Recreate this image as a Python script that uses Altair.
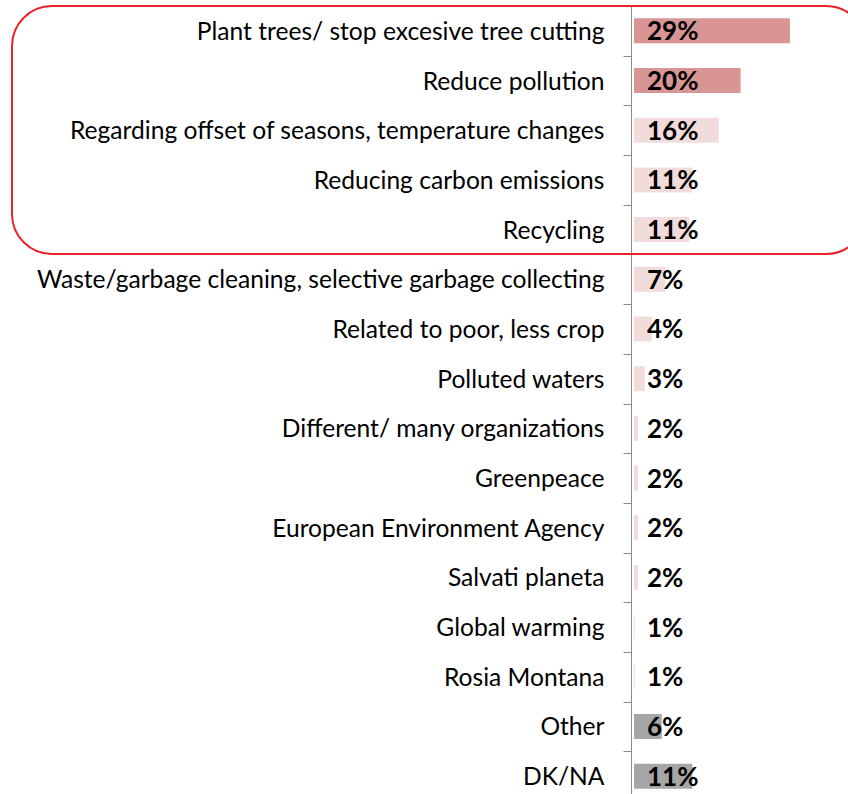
import altair as alt
import pandas as pd

categories = [
    "Plant trees/ stop excesive tree cutting",
    "Reduce pollution",
    "Regarding offset of seasons, temperature changes",
    "Reducing carbon emissions",
    "Recycling",
    "Waste/garbage cleaning, selective garbage collecting",
    "Related to poor, less crop",
    "Polluted waters",
    "Different/ many organizations",
    "Greenpeace",
    "European Environment Agency",
    "Salvati planeta",
    "Global warming",
    "Rosia Montana",
    "Other",
    "DK/NA",
]
values = [29.0, 20.0, 16.0, 11.1, 10.6, 6.2, 3.8, 2.5, 1.3, 1.3, 1.3, 1.3, 0.7, 0.7, 5.6, 11.2]
labels = ["29%", "20%", "16%", "11%", "11%", "7%", "4%", "3%", "2%", "2%", "2%", "2%", "1%", "1%", "6%", "11%"]
groups = ["top", "top", "rest", "rest", "rest", "rest", "rest", "rest", "rest", "rest",
          "rest", "rest", "rest", "rest", "other", "other"]

df = pd.DataFrame({"cat": categories, "value": values, "label": labels, "group": groups})

y_enc = alt.Y(
    "cat:N",
    sort=categories,
    scale=alt.Scale(range=[0, 795], paddingInner=0, paddingOuter=0),
    axis=alt.Axis(
        title=None,
        labelFont="Lato",
        labelFontSize=24.6,
        labelColor="#000000",
        labelPadding=19,
        labelOffset=1.5,
        labelLimit=0,
        domainColor="#8c8c8c",
        domainWidth=1,
        tickColor="#8c8c8c",
        tickSize=8,
        tickBand="extent",
    ),
)

bars = alt.Chart(df).mark_bar(size=25).encode(
    y=y_enc,
    x=alt.X("value:Q", scale=alt.Scale(domain=[0, 39.6], nice=False, zero=True), axis=None),
    x2=alt.X2(datum=0.55),
    color=alt.Color(
        "group:N",
        scale=alt.Scale(domain=["top", "rest", "other"], range=["#D99594", "#F2DCDB", "#A6A6A6"]),
        legend=None,
    ),
)

text = alt.Chart(df).mark_text(
    align="left", baseline="middle", font="Lato", fontWeight="bold", fontSize=26, color="#000000", dy=1.5
).encode(
    y=alt.Y("cat:N", sort=categories),
    x=alt.value(16),
    text="label:N",
)

box = alt.Chart(pd.DataFrame({"k": [0]})).mark_rect(
    fill=None, stroke="#E8232B", strokeWidth=2, cornerRadius=40
).encode(
    x=alt.value(-619),
    x2=alt.value(235),
    y=alt.value(0),
    y2=alt.value(248),
)

chart = alt.layer(bars, text, box).properties(
    width=217,
    height=788,
    autosize=alt.AutoSizeParams(type="none"),
    padding={"left": 631, "top": 6, "right": 0, "bottom": 0},
).configure_view(stroke=None)

chart.save("out.html", embed_options={"renderer": "svg", "actions": False})
